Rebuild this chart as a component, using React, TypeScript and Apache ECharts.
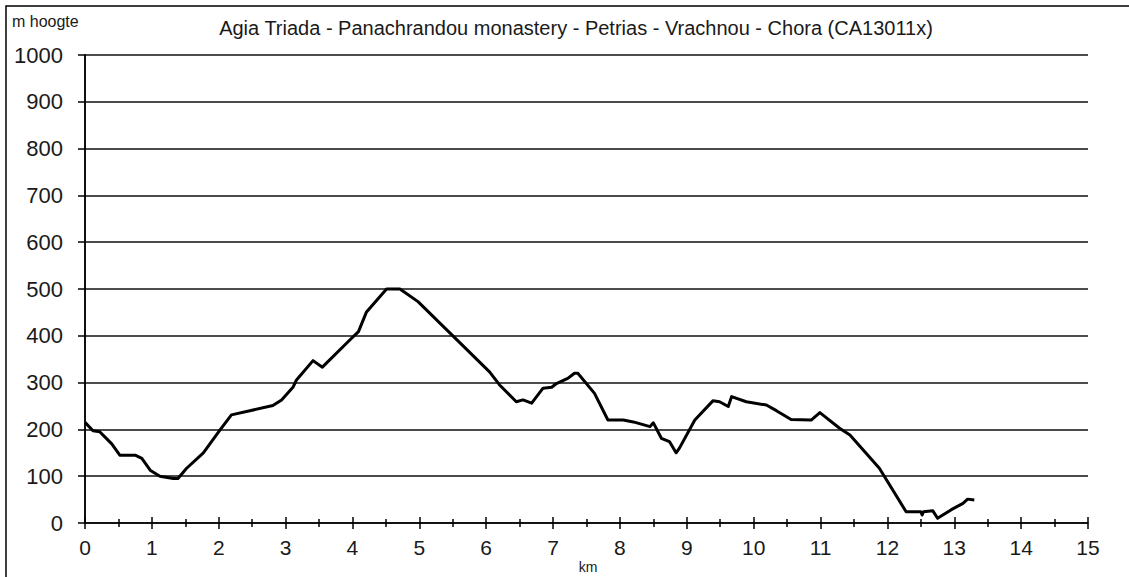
import React, { useEffect, useRef } from "react";
import * as echarts from "echarts";

const titleText = "Agia Triada - Panachrandou monastery - Petrias - Vrachnou - Chora (CA13011x)";
const yAxisTitle = "m hoogte";
const xAxisTitle = "km";

const distanceKm = [
  0.0, 0.12, 0.22, 0.4, 0.52, 0.75, 0.85, 0.98, 1.12, 1.32, 1.39, 1.52, 1.77, 2.02, 2.19, 2.81, 2.94,
  3.11, 3.16, 3.41, 3.55, 3.96, 4.09, 4.21, 4.51, 4.71, 4.98, 6.05, 6.2, 6.45, 6.55, 6.68, 6.85, 6.98,
  7.05, 7.22, 7.32, 7.37, 7.62, 7.82, 8.05, 8.2, 8.45, 8.5, 8.62, 8.74, 8.84, 8.89, 9.12, 9.39, 9.49,
  9.62, 9.67, 9.89, 10.19, 10.34, 10.56, 10.86, 10.99, 11.29, 11.44, 11.88, 12.28, 12.5, 12.52, 12.54,
  12.68, 12.75, 12.95, 13.13, 13.2, 13.3,
];
const elevationM = [
  215, 197, 195, 169, 145, 145, 138, 112, 100, 95, 95, 117, 150, 199, 231, 251, 263,
  290, 305, 347, 333, 391, 409, 451, 500, 500, 473, 323, 295, 259, 263, 256, 288, 290,
  298, 309, 320, 320, 277, 220, 220, 216, 206, 214, 181, 174, 150, 160, 220, 261, 259,
  249, 270, 259, 252, 240, 221, 220, 236, 202, 188, 117, 24, 24, 17, 24,
  26, 10, 28, 42, 51, 49,
];

const xMin = 0;
const xMax = 15;
const xStep = 1;
const yMin = 0;
const yMax = 1000;
const yStep = 100;

const FONT = "'Liberation Sans', Arial, sans-serif";

export default function App() {
  const ref = useRef<HTMLDivElement>(null);

  useEffect(() => {
    if (!ref.current) return;
    const chart = echarts.init(ref.current, undefined, { renderer: "svg" });
    const points = distanceKm.map((d, i) => [d, elevationM[i]]);

    const gridLeft = 85;
    const gridTop = 55;
    const gridWidth = 1003;
    const gridHeight = 468;

    chart.setOption({
      animation: false,
      backgroundColor: "#ffffff",
      grid: {
        left: gridLeft,
        top: gridTop,
        width: gridWidth,
        height: gridHeight,
        containLabel: false,
        outerBoundsMode: "none",
      },
      xAxis: [
        {
          type: "value",
          min: xMin,
          max: xMax,
          interval: xStep,
          position: "bottom",
          axisLine: { show: true, lineStyle: { color: "#000", width: 1.5 } },
          axisTick: { show: true, inside: false, length: 6, lineStyle: { color: "#000", width: 1.5 } },
          minorTick: { show: true, splitNumber: 2, length: 4, lineStyle: { color: "#000", width: 1.5 } },
          axisLabel: {
            show: true,
            margin: 14,
            color: "#1a1a1a",
            fontSize: 21,
            fontFamily: FONT,
            formatter: (v: number) => String(v),
          },
          splitLine: { show: false },
        },
        {
          type: "value",
          min: xMin,
          max: xMax,
          interval: xStep,
          position: "bottom",
          axisLine: { show: false },
          axisTick: { show: true, inside: true, length: 6, lineStyle: { color: "#000", width: 1.5 } },
          minorTick: { show: true, splitNumber: 2, length: 4, lineStyle: { color: "#000", width: 1.5 } },
          axisLabel: { show: false },
          splitLine: { show: false },
        },
      ],
      yAxis: [
        {
          type: "value",
          min: yMin,
          max: yMax,
          interval: yStep,
          position: "left",
          axisLine: { show: true, lineStyle: { color: "#000", width: 1.5 } },
          axisTick: { show: true, inside: false, length: 7, lineStyle: { color: "#000", width: 1.5 } },
          axisLabel: {
            show: true,
            margin: 22,
            color: "#1a1a1a",
            fontSize: 22,
            fontFamily: FONT,
            formatter: (v: number) => String(v),
          },
          splitLine: { show: true, lineStyle: { color: "#111", width: 1.5 } },
        },
        {
          type: "value",
          min: yMin,
          max: yMax,
          interval: yStep,
          position: "right",
          axisLine: { show: true, lineStyle: { color: "#000", width: 1.5 } },
          axisTick: { show: false },
          axisLabel: { show: false },
          splitLine: { show: false },
        },
      ],
      series: [
        {
          type: "line",
          data: points,
          xAxisIndex: 0,
          yAxisIndex: 0,
          showSymbol: false,
          symbol: "none",
          smooth: false,
          lineStyle: { color: "#000", width: 3, join: "round" },
        },
      ],
      graphic: [
        {
          type: "polyline",
          shape: { points: [[6, 600], [6, 6], [1140, 6]] },
          style: { stroke: "#000", lineWidth: 1.5, fill: "none" },
          silent: true,
        },
        {
          type: "text",
          x: 576,
          y: 28,
          style: {
            text: titleText,
            fontSize: 20,
            fontFamily: FONT,
            fill: "#1a1a1a",
            align: "center",
            verticalAlign: "middle",
          },
        },
        {
          type: "text",
          x: 12,
          y: 21,
          style: {
            text: yAxisTitle,
            fontSize: 16,
            fontFamily: FONT,
            fill: "#1a1a1a",
            align: "left",
            verticalAlign: "middle",
          },
        },
        {
          type: "text",
          x: 588,
          y: 567,
          style: {
            text: xAxisTitle,
            fontSize: 14,
            fontFamily: FONT,
            fill: "#1a1a1a",
            align: "center",
            verticalAlign: "middle",
          },
        },
      ],
    });

    return () => {
      chart.dispose();
    };
  }, []);

  return (
    <div
      ref={ref}
      style={{ position: "fixed", left: 0, top: 0, width: 1129, height: 577, background: "#fff" }}
    />
  );
}
